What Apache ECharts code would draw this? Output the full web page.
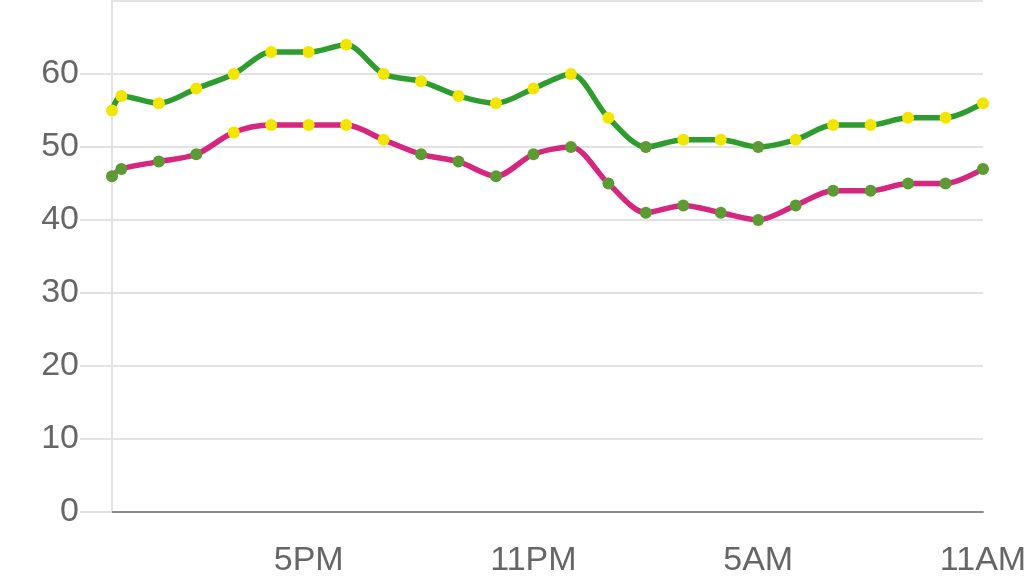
<!DOCTYPE html>
<html>
<head>
<meta charset="utf-8">
<script src="https://cdn.jsdelivr.net/npm/echarts@6/dist/echarts.min.js"></script>
<style>
  html, body { margin: 0; padding: 0; background: #fff; }
  #chart { width: 1034px; height: 578px; }
</style>
</head>
<body>
<div id="chart"></div>
<script>
// --- data ---
const times = ['11:45', '12:00', '13:00', '14:00', '15:00', '16:00', '17:00', '18:00', '19:00',
  '20:00', '21:00', '22:00', '23:00', '00:00', '01:00', '02:00', '03:00', '04:00', '05:00',
  '06:00', '07:00', '08:00', '09:00', '10:00', '11:00'];
const upperValues = [55, 57, 56, 58, 60, 63, 63, 64, 60, 59, 57, 56, 58, 60, 54, 50, 51, 51, 50,
  51, 53, 53, 54, 54, 56];
const lowerValues = [46, 47, 48, 49, 52, 53, 53, 53, 51, 49, 48, 46, 49, 50, 45, 41, 42, 41, 40,
  42, 44, 44, 45, 45, 47];
const tickHours = [5, 11, 17, 23];
const tickLabels = ['5PM', '11PM', '5AM', '11AM'];

// --- colours ---
const COLORS = {
  upperLine: '#2f9c2f',
  lowerLine: '#d7267f',
  markHigh: '#f2e600',
  markLow: '#5c9a33',
  label: '#666666',
  grid: '#e2e2e2',
  axis: '#8a8a8a'
};
const THRESHOLD = 50;

// hours since 12:00 (noon) of the first day, rolling over at midnight
const hours = [];
let dayOffset = 0;
times.forEach((t, i) => {
  const [h, m] = t.split(':').map(Number);
  let v = h + m / 60 + dayOffset - 12;
  if (i > 0 && v < hours[i - 1]) {
    dayOffset += 24;
    v += 24;
  }
  hours.push(v);
});

const markerColor = (p) => (p.value[1] > THRESHOLD ? COLORS.markHigh : COLORS.markLow);

const makeSeries = (values, lineColor) => ({
  type: 'line',
  data: values.map((v, i) => [hours[i], v]),
  smooth: 0.3,
  symbol: 'circle',
  symbolSize: 12,
  lineStyle: { color: lineColor, width: 5.5 },
  itemStyle: { color: markerColor },
  emphasis: { disabled: true },
  z: 3
});

const chart = echarts.init(document.getElementById('chart'));
chart.setOption({
  animation: false,
  backgroundColor: '#fff',
  grid: { left: 112, right: 51, top: 1, bottom: 66, containLabel: false },
  xAxis: {
    type: 'value',
    min: hours[0],
    max: hours[hours.length - 1],
    axisLine: { show: true, onZero: false, lineStyle: { color: COLORS.axis, width: 2 } },
    axisTick: { show: false },
    splitLine: { show: false },
    axisLabel: {
      customValues: tickHours,
      formatter: (v) => tickLabels[tickHours.indexOf(v)] || '',
      color: COLORS.label,
      fontFamily: 'Liberation Sans',
      fontSize: 34,
      margin: 32
    }
  },
  yAxis: {
    type: 'value',
    min: 0,
    max: 70,
    interval: 10,
    axisLine: { show: true, onZero: false, lineStyle: { color: COLORS.grid, width: 2 } },
    axisTick: { show: true, length: 32, lineStyle: { color: COLORS.grid, width: 2 } },
    splitLine: { show: true, lineStyle: { color: COLORS.grid, width: 2 } },
    axisLabel: {
      showMaxLabel: false,
      color: COLORS.label,
      fontFamily: 'Liberation Sans',
      fontSize: 34,
      margin: 33
    }
  },
  series: [
    makeSeries(upperValues, COLORS.upperLine),
    makeSeries(lowerValues, COLORS.lowerLine)
  ]
});
</script>
</body>
</html>
